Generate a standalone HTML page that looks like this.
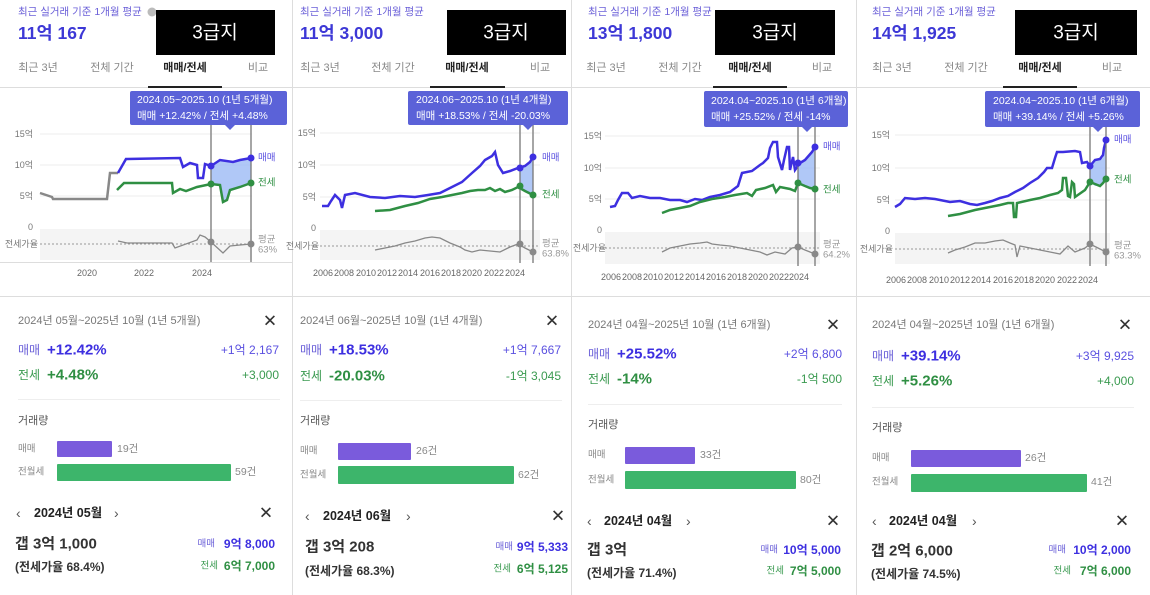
<!DOCTYPE html>
<html><head><meta charset="utf-8">
<style>
html,body{margin:0;padding:0;background:#fff;width:1150px;height:595px;overflow:hidden}
svg{display:block}
text{font-family:"Liberation Sans","Noto Sans CJK KR",sans-serif;dominant-baseline:central}
.hl{font-size:10.5px;fill:#6a5fd8}
.big{font-size:17.5px;font-weight:bold;fill:#3d38d6}
.box{font-size:19px;fill:#fff}
.tab{font-size:11px;fill:#888;text-anchor:middle}
.tabon{font-size:11px;fill:#222;text-anchor:middle;font-weight:bold}
.tt{font-size:10.5px;fill:#fff}
.ax{font-size:9px;fill:#777;text-anchor:end}
.xl{font-size:9px;fill:#666;text-anchor:middle}
.sl{font-size:9.5px}
.dt{font-size:11px;fill:#777}
.cl{font-size:17px;fill:#333}
.lb{font-size:12px}
.pct{font-size:15px;font-weight:bold}
.rv{font-size:12px;text-anchor:end}
.g{font-size:11px;fill:#555}
.bl{font-size:9.5px;fill:#888}
.bn{font-size:10.5px;fill:#888}
.md{font-size:12.5px;font-weight:bold;fill:#222}
.ar{font-size:14px;fill:#555}
.gap{font-size:15px;font-weight:bold;fill:#333}
.rat{font-size:12px;font-weight:bold;fill:#333}
.sm{font-size:9.5px}
.vv{font-size:12px;font-weight:bold}
.B{fill:#3d2fe0}.G{fill:#2f8f43}
</style></head><body>
<svg width="1150" height="595" viewBox="0 0 1150 595" xmlns="http://www.w3.org/2000/svg">
<g stroke="#ddd" stroke-width="1">
<line x1="292.5" y1="0" x2="292.5" y2="595"/><line x1="571.5" y1="0" x2="571.5" y2="595"/><line x1="856.5" y1="0" x2="856.5" y2="595"/>
<line x1="0" y1="87.5" x2="1150" y2="87.5"/>
<line x1="0" y1="262.5" x2="292" y2="262.5"/>
<line x1="0" y1="296.5" x2="1150" y2="296.5"/>
<line x1="18" y1="399.5" x2="280" y2="399.5" stroke="#eee"/><line x1="300" y1="400.5" x2="562" y2="400.5" stroke="#eee"/>
<line x1="588" y1="404.5" x2="842" y2="404.5" stroke="#eee"/><line x1="872" y1="407.5" x2="1134" y2="407.5" stroke="#eee"/>
</g>

<!-- ===== PANEL 1 ===== -->
<text class="hl" x="18" y="12">최근 실거래 기준 1개월 평균</text>
<circle cx="152" cy="12" r="4.5" fill="#bbb"/>
<text class="big" x="18" y="33">11억 167</text>
<rect x="156" y="10" width="119" height="45" fill="#000"/><text class="box" x="215" y="33" text-anchor="middle">3급지</text>
<text class="tab" x="38" y="68">최근 3년</text><text class="tab" x="112" y="68">전체 기간</text><text class="tabon" x="185" y="68">매매/전세</text><text class="tab" x="258" y="68">비교</text>
<rect x="148" y="86" width="74" height="2" fill="#222"/>
<g stroke="#eee"><line x1="40" y1="134" x2="252" y2="134"/><line x1="40" y1="165" x2="252" y2="165"/><line x1="40" y1="196" x2="252" y2="196"/></g>
<rect x="40" y="229" width="212" height="31" fill="#f4f4f4"/>
<line x1="40" y1="244" x2="252" y2="244" stroke="#999" stroke-dasharray="2,2"/>
<text class="ax" x="33" y="134">15억</text><text class="ax" x="33" y="165">10억</text><text class="ax" x="33" y="196">5억</text><text class="ax" x="33" y="227">0</text><text class="ax" x="38" y="244">전세가율</text>
<polygon points="211,166 220,160 233,162 240,160 251,158 251,183 230,190 227,200 223,202 220,185 211,184" fill="#9cbaf5" opacity="0.8"/>
<polyline points="40,193 52,197 53,199 107,199 110,173 118,173" fill="none" stroke="#888" stroke-width="2.5"/>
<polyline points="118,173 126,159 180,158 183,167 190,163 197,165 198,178 203,178 205,164 211,166 220,160 233,162 240,160 251,158" fill="none" stroke="#3d2fe0" stroke-width="2.5"/>
<polyline points="117,190 124,183 172,183 173,193 180,189 186,191 197,187 211,184 220,185 223,202 227,200 230,190 240,187 251,183" fill="none" stroke="#2f8f43" stroke-width="2.5"/>
<polyline points="118,241 127,243 172,243 175,248 197,240 200,235 205,237 211,242 223,253 230,246 240,245 251,244" fill="none" stroke="#888" stroke-width="1.3"/>
<g stroke="#777" stroke-width="1.3"><line x1="211" y1="125" x2="211" y2="262"/><line x1="251" y1="125" x2="251" y2="262"/></g>
<circle cx="211" cy="166" r="3.5" class="B"/><circle cx="251" cy="158" r="3.5" class="B"/><circle cx="211" cy="184" r="3.5" class="G"/><circle cx="251" cy="183" r="3.5" class="G"/><circle cx="211" cy="242" r="3.5" fill="#888"/><circle cx="251" cy="244" r="3.5" fill="#888"/>
<text class="sl" x="258" y="158" fill="#5a50e0">매매</text><text class="sl" x="258" y="183" fill="#2f8f43">전세</text><text class="sl" x="258" y="240" fill="#999">평균</text><text class="sl" x="258" y="250" fill="#999">63%</text>
<rect x="130" y="91" width="157" height="34" rx="2" fill="#5b62d8"/><polygon points="225,125 235,125 230,130" fill="#5b62d8"/>
<text class="tt" x="137" y="100">2024.05~2025.10 (1년 5개월)</text><text class="tt" x="137" y="116">매매 +12.42%  /  전세 +4.48%</text>
<text class="xl" x="87" y="273">2020</text><text class="xl" x="144" y="273">2022</text><text class="xl" x="202" y="273">2024</text>
<text class="dt" x="18" y="321">2024년 05월~2025년 10월 (1년 5개월)</text><text class="cl" x="270" y="321" text-anchor="middle">✕</text>
<text class="lb" x="18" y="350" fill="#6a5fd8">매매</text><text class="pct B" x="47" y="350">+12.42%</text><text class="rv" x="279" y="350" fill="#5a50e0">+1억 2,167</text>
<text class="lb" x="18" y="375" fill="#3a9a50">전세</text><text class="pct G" x="47" y="375">+4.48%</text><text class="rv" x="279" y="375" fill="#3a9a50">+3,000</text>
<text class="g" x="18" y="421">거래량</text>
<text class="bl" x="18" y="449">매매</text><rect x="57" y="441" width="55" height="16" rx="1" fill="#7a5bdc"/><text class="bn" x="117" y="449">19건</text>
<text class="bl" x="18" y="472">전월세</text><rect x="57" y="464" width="174" height="17" rx="1" fill="#3db56b"/><text class="bn" x="235" y="472">59건</text>
<text class="ar" x="16" y="513">‹</text><text class="md" x="34" y="513">2024년 05월</text><text class="ar" x="114" y="513">›</text><text class="cl" x="266" y="513" text-anchor="middle">✕</text>
<text class="gap" x="15" y="544">갭 3억 1,000</text><text class="rat" x="15" y="567">(전세가율 68.4%)</text>
<text class="sm" x="215" y="544" text-anchor="end" fill="#6a5fd8">매매</text><text class="vv B" x="275" y="544" text-anchor="end">9억 8,000</text>
<text class="sm" x="218" y="566" text-anchor="end" fill="#3a9a50">전세</text><text class="vv G" x="275" y="566" text-anchor="end">6억 7,000</text>

<!-- ===== PANEL 2 ===== -->
<text class="hl" x="300" y="12">최근 실거래 기준 1개월 평균</text>
<text class="big" x="300" y="33">11억 3,000</text>
<rect x="447" y="10" width="119" height="45" fill="#000"/><text class="box" x="506" y="33" text-anchor="middle">3급지</text>
<text class="tab" x="320" y="68">최근 3년</text><text class="tab" x="393" y="68">전체 기간</text><text class="tabon" x="467" y="68">매매/전세</text><text class="tab" x="540" y="68">비교</text>
<rect x="430" y="86" width="75" height="2" fill="#222"/>
<g stroke="#eee"><line x1="320" y1="133" x2="540" y2="133"/><line x1="320" y1="165" x2="540" y2="165"/><line x1="320" y1="197" x2="540" y2="197"/></g>
<rect x="320" y="230" width="220" height="30" fill="#f4f4f4"/>
<line x1="320" y1="246" x2="540" y2="246" stroke="#999" stroke-dasharray="2,2"/>
<text class="ax" x="316" y="133">15억</text><text class="ax" x="316" y="165">10억</text><text class="ax" x="316" y="197">5억</text><text class="ax" x="316" y="228">0</text><text class="ax" x="319" y="246">전세가율</text>
<polygon points="520,168 525,166 533,157 533,195 525,191 520,186" fill="#9cbaf5" opacity="0.8"/>
<polyline points="322,206 328,206 331,201 335,195 340,200 342,208 345,195 355,193 370,197 385,198 400,196 415,197 428,195 440,193 452,187 462,182 472,173 480,166 485,160 492,156 495,152 498,165 503,173 510,171 518,168 525,166 530,162 533,157" fill="none" stroke="#3d2fe0" stroke-width="2.5"/>
<polyline points="375,211 390,210 405,206 418,203 430,199 442,197 452,195 462,193 470,191 478,190 485,190 490,188 495,191 500,189 505,192 512,190 518,187 525,191 533,195" fill="none" stroke="#2f8f43" stroke-width="2.5"/>
<polyline points="375,250 385,248 395,246 405,243 415,241 425,238 432,237 440,238 450,243 460,247 465,250 472,252 480,250 490,251 500,252 510,247 518,244 525,248 533,252" fill="none" stroke="#888" stroke-width="1.3"/>
<g stroke="#777" stroke-width="1.3"><line x1="520" y1="125" x2="520" y2="263"/><line x1="533" y1="125" x2="533" y2="263"/></g>
<circle cx="520" cy="168" r="3.5" class="B"/><circle cx="533" cy="157" r="3.5" class="B"/><circle cx="520" cy="186" r="3.5" class="G"/><circle cx="533" cy="195" r="3.5" class="G"/><circle cx="520" cy="244" r="3.5" fill="#888"/><circle cx="533" cy="252" r="3.5" fill="#888"/>
<text class="sl" x="542" y="158" fill="#5a50e0">매매</text><text class="sl" x="542" y="195" fill="#2f8f43">전세</text><text class="sl" x="542" y="244" fill="#999">평균</text><text class="sl" x="542" y="254" fill="#999">63.8%</text>
<rect x="408" y="91" width="160" height="34" rx="2" fill="#5b62d8"/><polygon points="523,125 533,125 528,130" fill="#5b62d8"/>
<text class="tt" x="416" y="100">2024.06~2025.10 (1년 4개월)</text><text class="tt" x="416" y="116">매매 +18.53%  /  전세 -20.03%</text>
<text class="xl" x="323" y="273">2006</text><text class="xl" x="344" y="273">2008</text><text class="xl" x="366" y="273">2010</text><text class="xl" x="387" y="273">2012</text><text class="xl" x="408" y="273">2014</text><text class="xl" x="430" y="273">2016</text><text class="xl" x="451" y="273">2018</text><text class="xl" x="472" y="273">2020</text><text class="xl" x="494" y="273">2022</text><text class="xl" x="515" y="273">2024</text>
<text class="dt" x="300" y="321">2024년 06월~2025년 10월 (1년 4개월)</text><text class="cl" x="552" y="321" text-anchor="middle">✕</text>
<text class="lb" x="300" y="350" fill="#6a5fd8">매매</text><text class="pct B" x="329" y="350">+18.53%</text><text class="rv" x="561" y="350" fill="#5a50e0">+1억 7,667</text>
<text class="lb" x="300" y="376" fill="#3a9a50">전세</text><text class="pct G" x="329" y="376">-20.03%</text><text class="rv" x="561" y="376" fill="#3a9a50">-1억 3,045</text>
<text class="g" x="300" y="421">거래량</text>
<text class="bl" x="300" y="451">매매</text><rect x="338" y="443" width="73" height="17" rx="1" fill="#7a5bdc"/><text class="bn" x="416" y="451">26건</text>
<text class="bl" x="300" y="475">전월세</text><rect x="338" y="466" width="176" height="18" rx="1" fill="#3db56b"/><text class="bn" x="518" y="475">62건</text>
<text class="ar" x="305" y="516">‹</text><text class="md" x="323" y="516">2024년 06월</text><text class="ar" x="406" y="516">›</text><text class="cl" x="558" y="516" text-anchor="middle">✕</text>
<text class="gap" x="305" y="547">갭 3억 208</text><text class="rat" x="305" y="571">(전세가율 68.3%)</text>
<text class="sm" x="513" y="547" text-anchor="end" fill="#6a5fd8">매매</text><text class="vv B" x="568" y="547" text-anchor="end">9억 5,333</text>
<text class="sm" x="511" y="569" text-anchor="end" fill="#3a9a50">전세</text><text class="vv G" x="568" y="569" text-anchor="end">6억 5,125</text>

<!-- ===== PANEL 3 ===== -->
<text class="hl" x="588" y="12">최근 실거래 기준 1개월 평균</text>
<text class="big" x="588" y="33">13억 1,800</text>
<rect x="715" y="10" width="120" height="45" fill="#000"/><text class="box" x="775" y="33" text-anchor="middle">3급지</text>
<text class="tab" x="606" y="68">최근 3년</text><text class="tab" x="680" y="68">전체 기간</text><text class="tabon" x="750" y="68">매매/전세</text><text class="tab" x="822" y="68">비교</text>
<rect x="713" y="86" width="74" height="2" fill="#222"/>
<g stroke="#eee"><line x1="605" y1="136" x2="820" y2="136"/><line x1="605" y1="168" x2="820" y2="168"/><line x1="605" y1="199" x2="820" y2="199"/></g>
<rect x="605" y="232" width="215" height="32" fill="#f4f4f4"/>
<line x1="605" y1="248" x2="820" y2="248" stroke="#999" stroke-dasharray="2,2"/>
<text class="ax" x="602" y="136">15억</text><text class="ax" x="602" y="168">10억</text><text class="ax" x="602" y="199">5억</text><text class="ax" x="602" y="230">0</text><text class="ax" x="606" y="248">전세가율</text>
<polygon points="798,163 805,160 812,152 815,147 815,189 808,187 798,183" fill="#9cbaf5" opacity="0.8"/>
<polyline points="610,207 615,206 618,200 622,193 628,193 632,198 640,196 650,198 660,198 670,200 680,200 687,202 695,199 702,200 710,197 720,195 730,192 738,186 742,173 752,171 760,165 763,163 768,158 770,148 773,142 777,142 778,157 782,170 784,160 787,147 789,147 790,170 793,157 795,170 800,163 805,160 812,152 815,147" fill="none" stroke="#3d2fe0" stroke-width="2.5"/>
<polyline points="662,213 670,210 680,208 690,206 700,202 712,199 725,197 735,195 747,193 752,196 756,190 765,188 773,185 776,192 780,187 790,189 795,191 798,183 805,186 810,188 815,189" fill="none" stroke="#2f8f43" stroke-width="2.5"/>
<polyline points="662,252 670,248 680,246 690,244 700,243 707,242 712,244 720,245 730,246 740,248 750,250 760,252 767,255 775,252 785,254 792,248 798,247 805,250 815,254" fill="none" stroke="#888" stroke-width="1.3"/>
<g stroke="#777" stroke-width="1.3"><line x1="798" y1="127" x2="798" y2="266"/><line x1="815" y1="127" x2="815" y2="266"/></g>
<circle cx="798" cy="163" r="3.5" class="B"/><circle cx="815" cy="147" r="3.5" class="B"/><circle cx="798" cy="183" r="3.5" class="G"/><circle cx="815" cy="189" r="3.5" class="G"/><circle cx="798" cy="247" r="3.5" fill="#888"/><circle cx="815" cy="254" r="3.5" fill="#888"/>
<text class="sl" x="823" y="147" fill="#5a50e0">매매</text><text class="sl" x="823" y="190" fill="#2f8f43">전세</text><text class="sl" x="823" y="245" fill="#999">평균</text><text class="sl" x="823" y="255" fill="#999">64.2%</text>
<rect x="704" y="91" width="144" height="36" rx="2" fill="#5b62d8"/><polygon points="802,127 812,127 807,132" fill="#5b62d8"/>
<text class="tt" x="711" y="101">2024.04~2025.10 (1년 6개월)</text><text class="tt" x="711" y="117">매매 +25.52%  /  전세 -14%</text>
<text class="xl" x="611" y="277">2006</text><text class="xl" x="632" y="277">2008</text><text class="xl" x="653" y="277">2010</text><text class="xl" x="674" y="277">2012</text><text class="xl" x="695" y="277">2014</text><text class="xl" x="716" y="277">2016</text><text class="xl" x="737" y="277">2018</text><text class="xl" x="758" y="277">2020</text><text class="xl" x="779" y="277">2022</text><text class="xl" x="799" y="277">2024</text>
<text class="dt" x="588" y="325">2024년 04월~2025년 10월 (1년 6개월)</text><text class="cl" x="833" y="325" text-anchor="middle">✕</text>
<text class="lb" x="588" y="354" fill="#6a5fd8">매매</text><text class="pct B" x="617" y="354">+25.52%</text><text class="rv" x="842" y="354" fill="#5a50e0">+2억 6,800</text>
<text class="lb" x="588" y="379" fill="#3a9a50">전세</text><text class="pct G" x="617" y="379">-14%</text><text class="rv" x="842" y="379" fill="#3a9a50">-1억 500</text>
<text class="g" x="588" y="425">거래량</text>
<text class="bl" x="588" y="455">매매</text><rect x="625" y="447" width="70" height="17" rx="1" fill="#7a5bdc"/><text class="bn" x="700" y="455">33건</text>
<text class="bl" x="588" y="480">전월세</text><rect x="625" y="471" width="171" height="18" rx="1" fill="#3db56b"/><text class="bn" x="800" y="480">80건</text>
<text class="ar" x="587" y="521">‹</text><text class="md" x="604" y="521">2024년 04월</text><text class="ar" x="686" y="521">›</text><text class="cl" x="833" y="521" text-anchor="middle">✕</text>
<text class="gap" x="587" y="550">갭 3억</text><text class="rat" x="587" y="573">(전세가율 71.4%)</text>
<text class="sm" x="778" y="550" text-anchor="end" fill="#6a5fd8">매매</text><text class="vv B" x="841" y="550" text-anchor="end">10억 5,000</text>
<text class="sm" x="784" y="571" text-anchor="end" fill="#3a9a50">전세</text><text class="vv G" x="841" y="571" text-anchor="end">7억 5,000</text>

<!-- ===== PANEL 4 ===== -->
<text class="hl" x="872" y="12">최근 실거래 기준 1개월 평균</text>
<text class="big" x="872" y="33">14억 1,925</text>
<rect x="1015" y="10" width="122" height="45" fill="#000"/><text class="box" x="1076" y="33" text-anchor="middle">3급지</text>
<text class="tab" x="892" y="68">최근 3년</text><text class="tab" x="966" y="68">전체 기간</text><text class="tabon" x="1040" y="68">매매/전세</text><text class="tab" x="1112" y="68">비교</text>
<rect x="1003" y="86" width="74" height="2" fill="#222"/>
<g stroke="#eee"><line x1="895" y1="135" x2="1110" y2="135"/><line x1="895" y1="168" x2="1110" y2="168"/><line x1="895" y1="200" x2="1110" y2="200"/></g>
<rect x="895" y="233" width="215" height="31" fill="#f4f4f4"/>
<line x1="895" y1="249" x2="1110" y2="249" stroke="#999" stroke-dasharray="2,2"/>
<text class="ax" x="890" y="135">15억</text><text class="ax" x="890" y="168">10억</text><text class="ax" x="890" y="200">5억</text><text class="ax" x="890" y="231">0</text><text class="ax" x="893" y="249">전세가율</text>
<polygon points="1090,166 1095,160 1100,159 1103,158 1106,140 1106,179 1100,185 1095,186 1090,182" fill="#9cbaf5" opacity="0.8"/>
<polyline points="895,207 900,204 905,198 915,199 925,198 935,199 950,202 960,201 970,204 977,205 985,203 992,201 1000,198 1008,196 1015,192 1023,188 1030,183 1038,178 1044,172 1047,168 1052,168 1055,158 1057,152 1063,152 1075,151 1080,152 1082,163 1087,162 1090,166 1095,160 1100,159 1103,155 1104,148 1106,140" fill="none" stroke="#3d2fe0" stroke-width="2.5"/>
<polyline points="948,216 960,214 975,210 990,207 1000,205 1008,203 1013,203 1014,217 1016,217 1017,203 1030,200 1040,198 1050,195 1058,193 1062,190 1063,178 1066,178 1068,196 1070,197 1072,182 1074,184 1075,197 1085,190 1090,182 1095,184 1100,186 1103,183 1106,179" fill="none" stroke="#2f8f43" stroke-width="2.5"/>
<polyline points="948,253 955,250 965,247 975,243 985,243 995,241 1003,240 1010,243 1015,245 1017,257 1020,246 1030,248 1040,250 1050,252 1060,254 1068,246 1075,252 1085,248 1090,244 1098,248 1106,252" fill="none" stroke="#888" stroke-width="1.3"/>
<g stroke="#777" stroke-width="1.3"><line x1="1090" y1="127" x2="1090" y2="266"/><line x1="1106" y1="127" x2="1106" y2="266"/></g>
<circle cx="1090" cy="166" r="3.5" class="B"/><circle cx="1106" cy="140" r="3.5" class="B"/><circle cx="1090" cy="182" r="3.5" class="G"/><circle cx="1106" cy="179" r="3.5" class="G"/><circle cx="1090" cy="244" r="3.5" fill="#888"/><circle cx="1106" cy="252" r="3.5" fill="#888"/>
<text class="sl" x="1114" y="140" fill="#5a50e0">매매</text><text class="sl" x="1114" y="180" fill="#2f8f43">전세</text><text class="sl" x="1114" y="246" fill="#999">평균</text><text class="sl" x="1114" y="256" fill="#999">63.3%</text>
<rect x="985" y="91" width="155" height="36" rx="2" fill="#5b62d8"/><polygon points="1093,127 1103,127 1098,132" fill="#5b62d8"/>
<text class="tt" x="993" y="101">2024.04~2025.10 (1년 6개월)</text><text class="tt" x="993" y="117">매매 +39.14%  /  전세 +5.26%</text>
<text class="xl" x="896" y="280">2006</text><text class="xl" x="917" y="280">2008</text><text class="xl" x="939" y="280">2010</text><text class="xl" x="960" y="280">2012</text><text class="xl" x="981" y="280">2014</text><text class="xl" x="1003" y="280">2016</text><text class="xl" x="1024" y="280">2018</text><text class="xl" x="1045" y="280">2020</text><text class="xl" x="1067" y="280">2022</text><text class="xl" x="1088" y="280">2024</text>
<text class="dt" x="872" y="325">2024년 04월~2025년 10월 (1년 6개월)</text><text class="cl" x="1125" y="325" text-anchor="middle">✕</text>
<text class="lb" x="872" y="356" fill="#6a5fd8">매매</text><text class="pct B" x="901" y="356">+39.14%</text><text class="rv" x="1134" y="356" fill="#5a50e0">+3억 9,925</text>
<text class="lb" x="872" y="381" fill="#3a9a50">전세</text><text class="pct G" x="901" y="381">+5.26%</text><text class="rv" x="1134" y="381" fill="#3a9a50">+4,000</text>
<text class="g" x="872" y="428">거래량</text>
<text class="bl" x="872" y="458">매매</text><rect x="911" y="450" width="110" height="17" rx="1" fill="#7a5bdc"/><text class="bn" x="1025" y="458">26건</text>
<text class="bl" x="872" y="482">전월세</text><rect x="911" y="474" width="176" height="18" rx="1" fill="#3db56b"/><text class="bn" x="1091" y="482">41건</text>
<text class="ar" x="872" y="521">‹</text><text class="md" x="889" y="521">2024년 04월</text><text class="ar" x="972" y="521">›</text><text class="cl" x="1122" y="521" text-anchor="middle">✕</text>
<text class="gap" x="871" y="551">갭 2억 6,000</text><text class="rat" x="871" y="574">(전세가율 74.5%)</text>
<text class="sm" x="1066" y="550" text-anchor="end" fill="#6a5fd8">매매</text><text class="vv B" x="1131" y="550" text-anchor="end">10억 2,000</text>
<text class="sm" x="1071" y="571" text-anchor="end" fill="#3a9a50">전세</text><text class="vv G" x="1131" y="571" text-anchor="end">7억 6,000</text>
</svg>
</body></html>
